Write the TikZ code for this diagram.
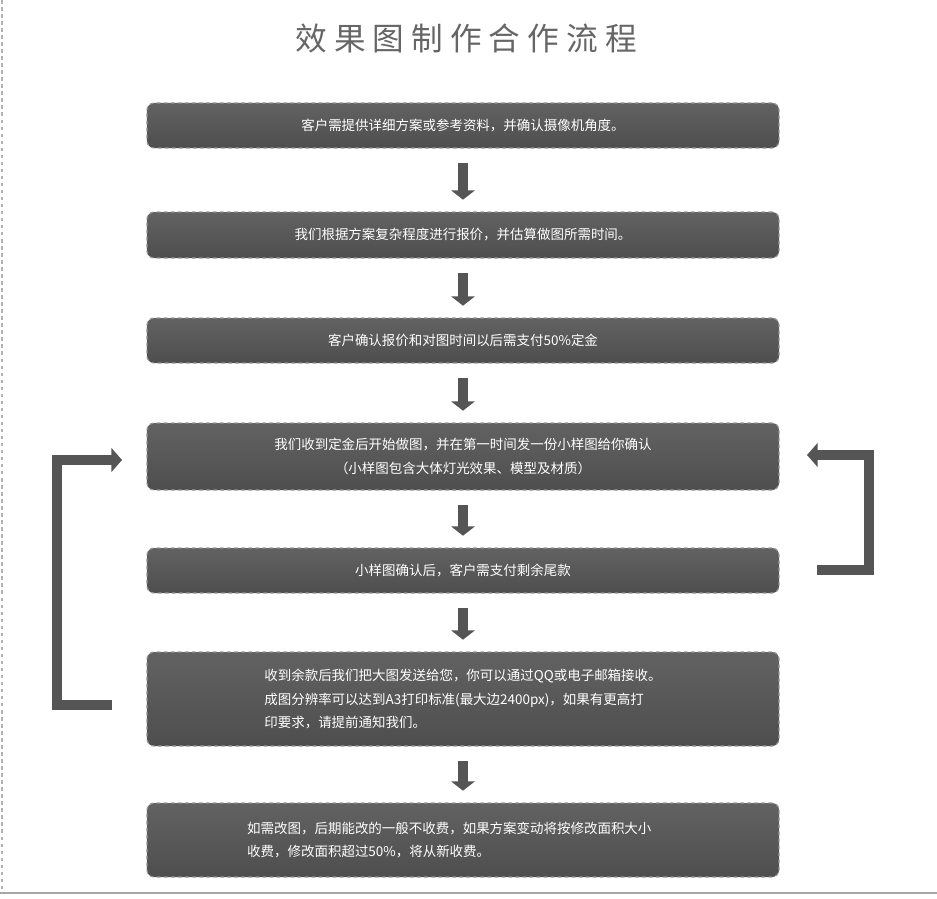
\documentclass[tikz,border=0pt]{standalone}
\usepackage{fontspec}
\setmainfont{Noto Sans CJK SC}
\usetikzlibrary{positioning,arrows.meta}

\definecolor{boxgray}{RGB}{78,78,78}
\definecolor{boxtop}{RGB}{98,98,98}
\definecolor{edgegray}{RGB}{150,150,150}
\definecolor{arrowgray}{RGB}{85,85,85}

\tikzset{
	stepbox/.style={draw=edgegray,dashed,line width=1pt,rounded corners=6pt,
		top color=boxtop,bottom color=boxgray,text=white,
		minimum width=18.96cm,align=center,font=\fontsize{11.5}{20}\selectfont},
	downarrow/.style={-{Triangle[length=8pt,width=20pt]},line width=9pt,arrowgray},
	looparrow/.style={-{Triangle[length=9pt,width=20pt]},line width=9pt,arrowgray}
}

\begin{document}
\begin{tikzpicture}[x=0.03cm,y=-0.03cm]

	\useasboundingbox (0,0) rectangle (937,898);
	\draw[gray!60,dashed,line width=2pt] (2,0) -- (2,893);
	\draw[gray!70,line width=1.5pt] (0,893) -- (937,893);

	\node[text=gray!80!black,font=\fontsize{27}{30}\selectfont] (title) at (466,38) {效 果 图 制 作 合 作 流 程};

	\node[stepbox,minimum height=1.35cm] (s1) at (463,125.5) {客户需提供详细方案或参考资料，并确认摄像机角度。};
	\node[stepbox,minimum height=1.38cm] (s2) at (463,235) {我们根据方案复杂程度进行报价，并估算做图所需时间。};
	\node[stepbox,minimum height=1.35cm] (s3) at (463,340.5) {客户确认报价和对图时间以后需支付50\%定金};
	\node[stepbox,minimum height=2.01cm] (s4) at (463,456.5) {我们收到定金后开始做图，并在第一时间发一份小样图给你确认\\（小样图包含大体灯光效果、模型及材质）};
	\node[stepbox,minimum height=1.35cm] (s5) at (463,570.5) {小样图确认后，客户需支付剩余尾款};
	\node[stepbox,minimum height=2.82cm,align=left] (s6) at (463,699) {收到余款后我们把大图发送给您，你可以通过QQ或电子邮箱接收。\\成图分辨率可以达到A3打印标准(最大边2400px)，如果有更高打\\印要求，请提前通知我们。};
	\node[stepbox,minimum height=2.22cm,align=left] (s7) at (463,840) {如需改图，后期能改的一般不收费，如果方案变动将按修改面积大小\\收费，修改面积超过50\%，将从新收费。\hspace*{14em}};

	\foreach \a/\b in {s1/s2,s2/s3,s3/s4,s4/s5,s5/s6,s6/s7}
		\draw[downarrow] ([yshift=-12pt]\a.south) -- ([yshift=10pt]\b.north);

	\coordinate (lstart) at (112,705);
	\coordinate (lend) at (122,460);
	\draw[looparrow] (lstart) -- (57,705) -- (57,460) -- (lend);

	\coordinate (rstart) at (817,570);
	\coordinate (rend) at (807,455);
	\draw[looparrow] (rstart) -- (869,570) -- (869,455) -- (rend);

\end{tikzpicture}
\end{document}
